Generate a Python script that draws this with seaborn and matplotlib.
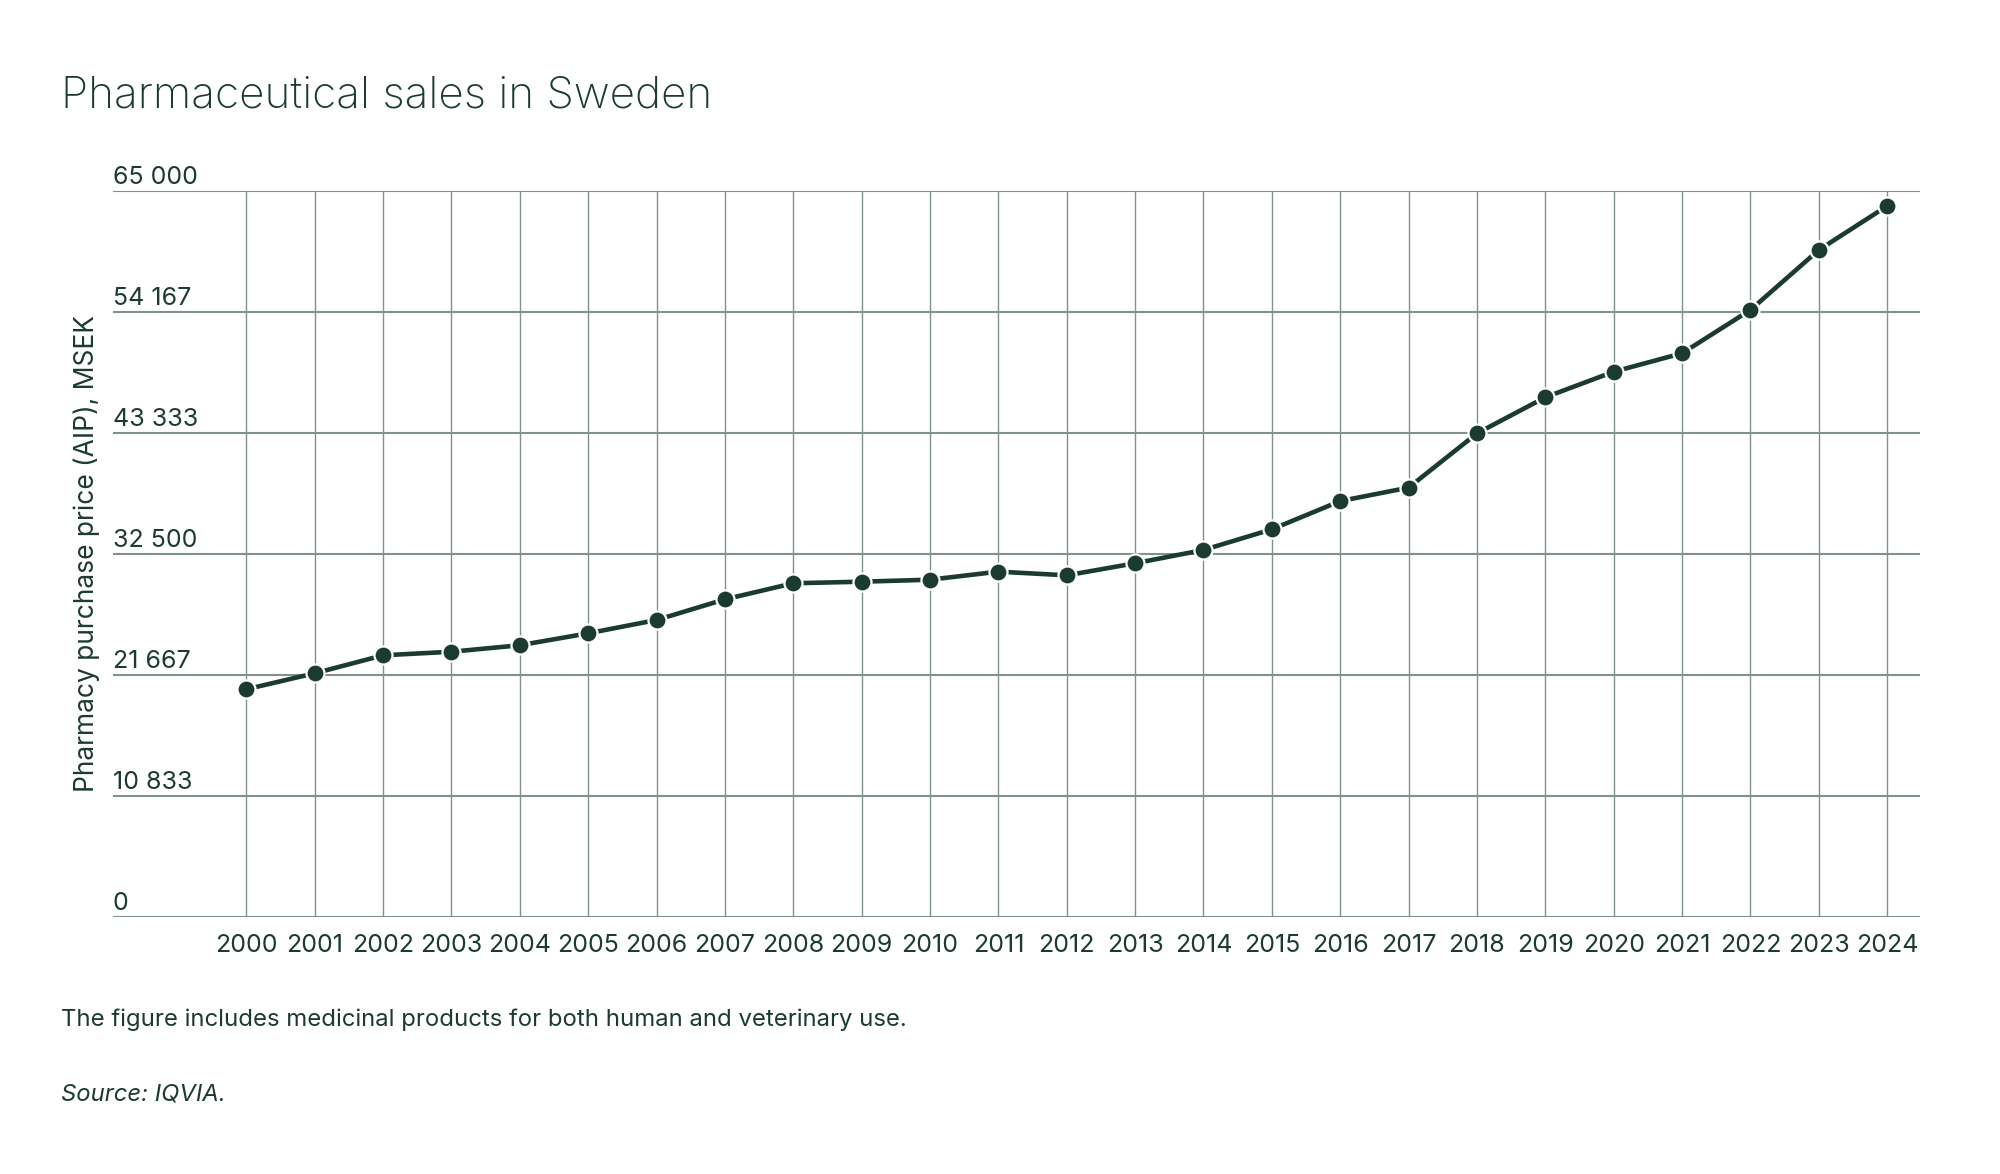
import matplotlib
matplotlib.use("Agg")
import matplotlib.pyplot as plt
import matplotlib.transforms as mtransforms
import seaborn as sns
import pandas as pd

# data
years = list(range(2000, 2025))
sales = [20390, 21820, 23430, 23750, 24330, 25400, 26590, 28440, 29880, 30020,
         30200, 30920, 30590, 31670, 32860, 34710, 37240, 38440, 43300, 46530,
         48820, 50470, 54350, 59720, 63660]
ytick_values = [0, 10833, 21667, 32500, 43333, 54167, 65000]
ytick_labels = ["0", "10 833", "21 667", "32 500", "43 333", "54 167", "65 000"]

title = "Pharmaceutical sales in Sweden"
ylabel = "Pharmacy purchase price (AIP), MSEK"
note = "The figure includes medicinal products for both human and veterinary use."
source = "Source: IQVIA."

dark = "#1b3b2f"
grid = "#7f928b"

df = pd.DataFrame({"year": years, "sales": sales})

sns.set_theme(style="white")
plt.rcParams["font.family"] = ["Inter", "DejaVu Sans"]

W, H = 2000, 1174
fig = plt.figure(figsize=(W / 100, H / 100), dpi=100)
ax = fig.add_axes([113 / W, 1 - 917 / H, (1920 - 113) / W, (917 - 191) / H])

sns.lineplot(data=df, x="year", y="sales", ax=ax, color=dark, linewidth=3.3,
             marker="o", markersize=13, markerfacecolor=dark,
             markeredgecolor="white", markeredgewidth=1.6, zorder=5)

ax.set_xlim(1998.05, 2024.48)
ax.set_ylim(0, 65000)
ax.set_xticks(years)
ax.set_xticklabels([str(y) for y in years], fontsize=18, color=dark)
ax.set_yticks(ytick_values)
ax.set_yticklabels([])
ax.tick_params(axis="both", length=0)
ax.tick_params(axis="x", pad=12)

# grid: horizontal lines a bit heavier than the vertical ones
for v in ytick_values:
    ax.axhline(v, color=grid, linewidth=1.5, zorder=1)
for yr in years:
    ax.axvline(yr, color=grid, linewidth=1.0, zorder=1)
for s in ax.spines.values():
    s.set_visible(False)

# y tick labels sit just above each grid line, left aligned
offset = mtransforms.ScaledTranslation(0, 5 / 72, fig.dpi_scale_trans)
trans = mtransforms.blended_transform_factory(ax.transAxes, ax.transData) + offset
for v, lab in zip(ytick_values, ytick_labels):
    ax.text(0, v, lab, transform=trans, ha="left", va="baseline",
            fontsize=18, color=dark)

ax.set_xlabel("")
ax.set_ylabel("")
fig.text(87 / W, 1 - 554 / H, ylabel, rotation=90, ha="center", va="center",
         fontsize=19, color=dark)

fig.text(61 / W, 1 - 107 / H, title, ha="left", va="baseline",
         fontsize=31.7, color=dark, fontweight="light")
fig.text(61 / W, 1 - 1026 / H, note, ha="left", va="baseline",
         fontsize=17.2, color=dark)
fig.text(61 / W, 1 - 1101 / H, source, ha="left", va="baseline",
         fontsize=17.2, color=dark, fontstyle="italic")

fig.savefig("out.png", dpi=100, facecolor="white")
